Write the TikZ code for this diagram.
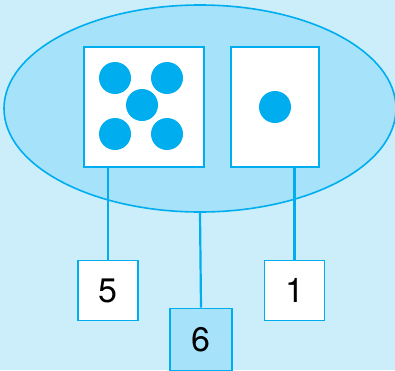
\documentclass[tikz,border=0pt]{standalone}
\usepackage{fontspec}
\setmainfont{TeX Gyre Heros}
\usetikzlibrary{calc,shapes.geometric}

\definecolor{skyback}{RGB}{204,238,250}
\definecolor{skyfill}{RGB}{166,226,250}
\definecolor{cyanline}{RGB}{0,174,239}

\begin{document}
\begin{tikzpicture}[x=1pt, y=-1pt,
  cell/.style={draw=cyanline, line width=2pt, fill=white, inner sep=0pt},
  numbox/.style={draw=cyanline, line width=1.6pt, fill=white, minimum size=60pt,
    inner sep=0pt, font=\fontsize{34}{34}\selectfont},
  pip/.style={fill=cyanline},
  wire/.style={cyanline, line width=2.2pt}]

  % background
  \fill[skyback] (0,0) rectangle (395,370);
  \useasboundingbox (0,0) rectangle (395,370);

  % big ellipse holding the two dice
  \node[ellipse, draw=cyanline, line width=1.6pt, fill=skyfill,
    minimum width=392pt, minimum height=207pt, inner sep=0pt] (set) at (200,108.5) {};

  % the two dice faces
  \node[cell, minimum width=120pt, minimum height=120pt] (dicefive) at (143.5,106.5) {};
  \node[cell, minimum width=88pt, minimum height=120pt] (diceone) at (274.5,106.5) {};
  \foreach \px/\py in {115/78, 167/78, 142/105, 115/134, 167/134}
    \fill[pip] (\px,\py) circle (16);
  \fill[pip] (275,107) circle (16);

  % number boxes
  \node[numbox] (five) at (108,290.5) {5};
  \node[numbox] (one) at (294.5,290.5) {1};
  \node[numbox, fill=skyfill, minimum size=62pt] (six) at (201,339.5) {6};

  % connecting lines
  \draw[wire] (five.north) -- (five |- dicefive.south);
  \draw[wire] (one.north) -- (one |- diceone.south);
  \draw[wire] (six.north) -- (set.south);
\end{tikzpicture}
\end{document}
